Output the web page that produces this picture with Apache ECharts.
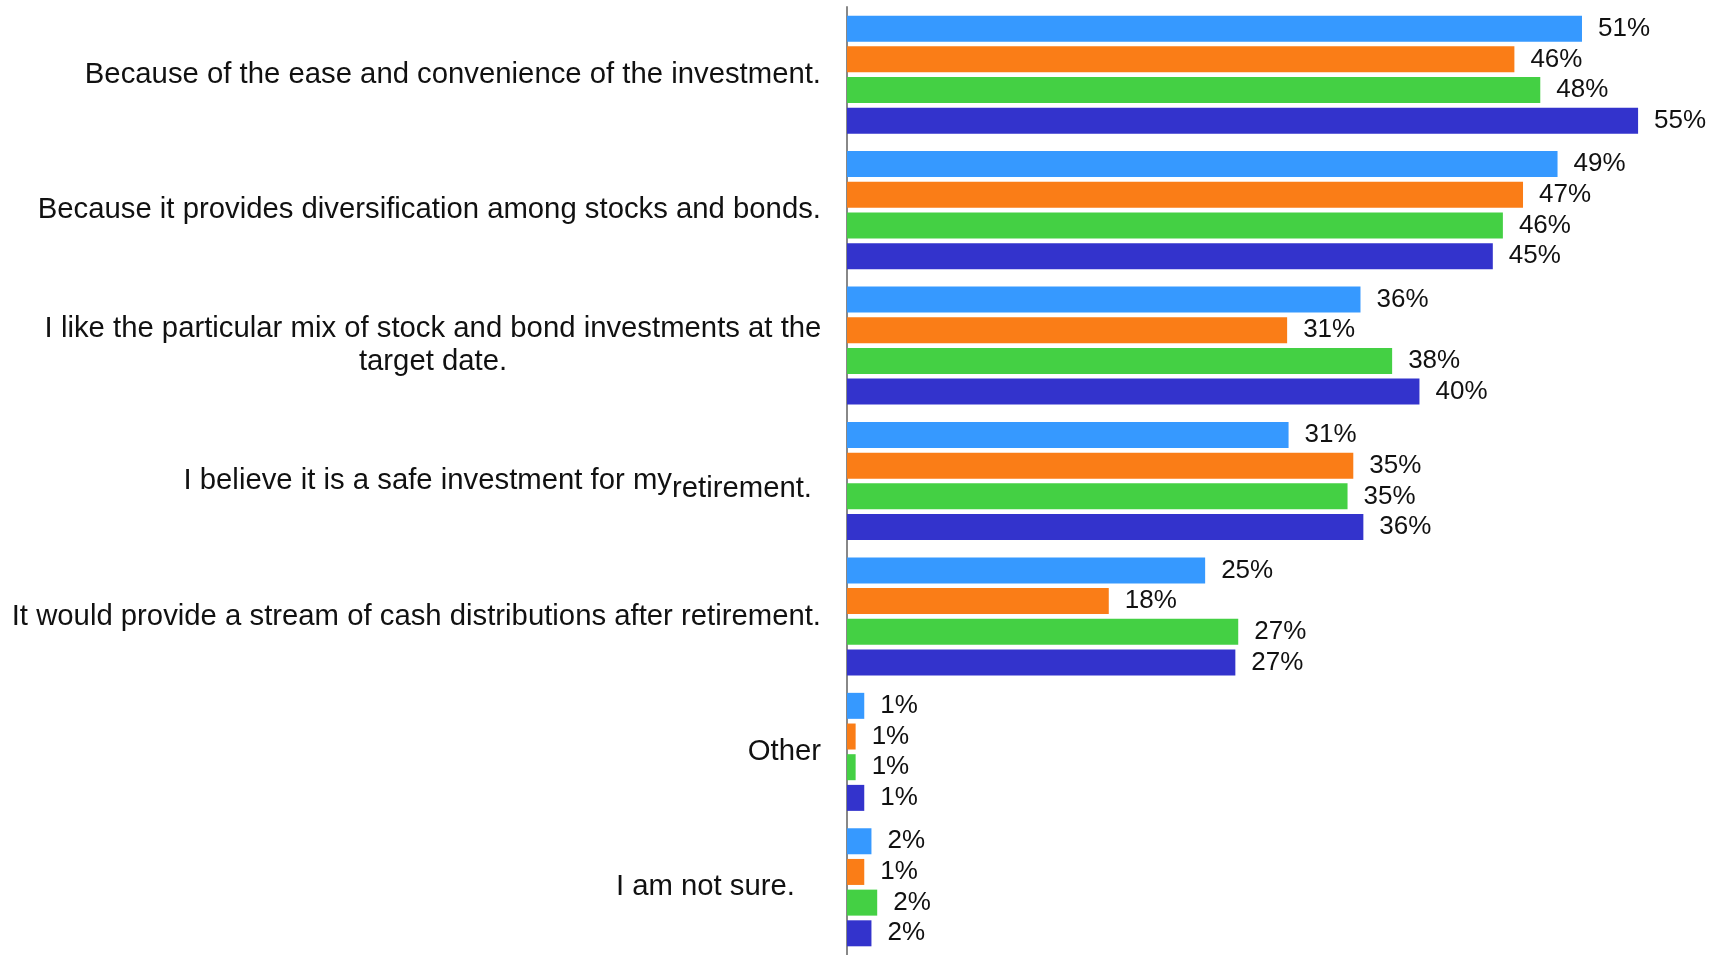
<!DOCTYPE html>
<html>
<head>
<meta charset="utf-8">
<script src="https://cdn.jsdelivr.net/npm/echarts@6/dist/echarts.min.js"></script>
<style>
    html, body { margin: 0; padding: 0; background: #fff; }
    #main { width: 1719px; height: 955px; }
</style>
</head>
<body>
<div id="main"></div>
<script>
// categories, top to bottom
var categories = [
    'ease',
    'diversification',
    'mix',
    'safe',
    'stream',
    'other',
    'notsure'
];

// four groups of respondents (no legend in the original)
var seriesNames = ['Group 1', 'Group 2', 'Group 3', 'Group 4'];
var group1 = [51.1, 49.4, 35.7, 30.7, 24.9, 1.2, 1.7];
var group2 = [46.4, 47.0, 30.6, 35.2, 18.2, 0.6, 1.2];
var group3 = [48.2, 45.6, 37.9, 34.8, 27.2, 0.6, 2.1];
var group4 = [55.0, 44.9, 39.8, 35.9, 27.0, 1.2, 1.7];

var colors = ['#3699ff', '#fa7d17', '#44d044', '#3333cc'];

// axis label text, rich-formatted where the original layout is odd
var labelText = {
    ease: '{n|Because of the ease and convenience of the investment.}',
    diversification: '{n|Because it provides diversification among stocks and bonds.}',
    mix: '{c|I like the particular mix of stock and bond investments at the}\n{c|target date.}',
    safe: '{n|I believe it is a safe investment for my}{low|retirement.}',
    stream: '{n|It would provide a stream of cash distributions after retirement.}',
    other: '{n|Other}',
    notsure: '{pad|I am not sure.}'
};

var myChart = echarts.init(document.getElementById('main'));

var fontFamily = '"Liberation Sans", Arial, sans-serif';
var catSize = 29.3;

var series = [group1, group2, group3, group4].map(function (vals, i) {
    return {
        name: seriesNames[i],
        type: 'bar',
        data: vals,
        barWidth: 26,
        barGap: '18%',
        itemStyle: { color: colors[i] },
        label: {
            show: true,
            position: 'right',
            distance: 16,
            fontSize: 26,
            fontFamily: fontFamily,
            color: '#111',
            formatter: function (p) {
                return Math.round(p.value) + '%';
            }
        }
    };
});

var option = {
    animation: false,
    grid: {
        left: 847,
        right: 9,
        top: 7,
        bottom: -6
    },
    xAxis: {
        type: 'value',
        min: 0,
        max: 60,
        show: false
    },
    yAxis: {
        type: 'category',
        inverse: true,
        data: categories,
        axisTick: { show: false },
        axisLine: {
            show: true,
            lineStyle: { color: '#888', width: 2 }
        },
        axisLabel: {
            interval: 0,
            margin: 26,
            fontSize: catSize,
            fontFamily: fontFamily,
            color: '#111',
            formatter: function (v) { return labelText[v]; },
            rich: {
                n: { fontSize: catSize, fontFamily: fontFamily, color: '#111' },
                c: { fontSize: catSize, fontFamily: fontFamily, color: '#111', width: 776, align: 'center', lineHeight: 33 },
                low: { fontSize: catSize, fontFamily: fontFamily, color: '#111', padding: [16, 9, 0, 0] },
                pad: { fontSize: catSize, fontFamily: fontFamily, color: '#111', padding: [0, 26, 0, 0] }
            }
        }
    },
    series: series
};
myChart.setOption(option);
</script>
</body>
</html>
